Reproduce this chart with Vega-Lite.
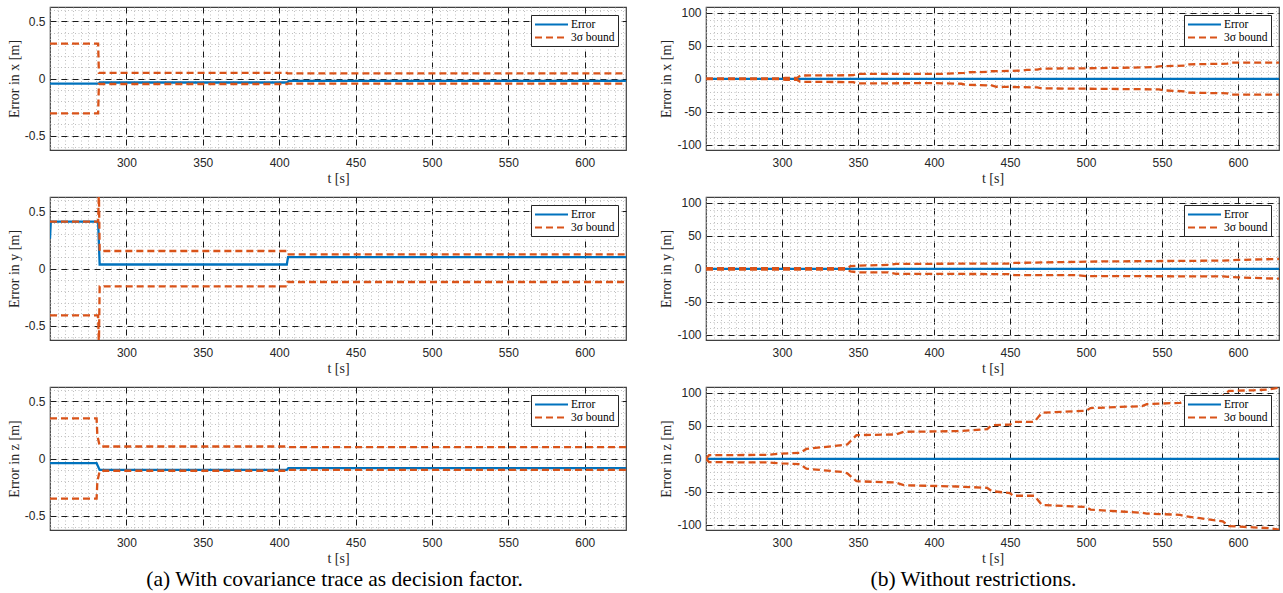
{
  "$schema": "https://vega.github.io/schema/vega-lite/v6.json",
  "background": "white",
  "padding": {"left": 6, "top": 6, "right": 4, "bottom": 2},
  "data": {"values": [
    {"p":"ax","s":"Error","g":"e","t":250,"v":-0.044},
    {"p":"ax","s":"Error","g":"e","t":282,"v":-0.044},
    {"p":"ax","s":"Error","g":"e","t":282.5,"v":-0.035},
    {"p":"ax","s":"Error","g":"e","t":405,"v":-0.035},
    {"p":"ax","s":"Error","g":"e","t":406.5,"v":-0.02},
    {"p":"ax","s":"Error","g":"e","t":627,"v":-0.02},
    {"p":"ax","s":"3σ bound","g":"u","t":250,"v":0.305},
    {"p":"ax","s":"3σ bound","g":"u","t":281.5,"v":0.305},
    {"p":"ax","s":"3σ bound","g":"u","t":282,"v":0.05},
    {"p":"ax","s":"3σ bound","g":"u","t":405,"v":0.05},
    {"p":"ax","s":"3σ bound","g":"u","t":405.5,"v":0.045},
    {"p":"ax","s":"3σ bound","g":"u","t":627,"v":0.045},
    {"p":"ax","s":"3σ bound","g":"l","t":250,"v":-0.305},
    {"p":"ax","s":"3σ bound","g":"l","t":281.5,"v":-0.305},
    {"p":"ax","s":"3σ bound","g":"l","t":282,"v":-0.048},
    {"p":"ax","s":"3σ bound","g":"l","t":405,"v":-0.048},
    {"p":"ax","s":"3σ bound","g":"l","t":405.5,"v":-0.045},
    {"p":"ax","s":"3σ bound","g":"l","t":627,"v":-0.045},

    {"p":"ay","s":"Error","g":"e","t":250,"v":0.26},
    {"p":"ay","s":"Error","g":"e","t":250.5,"v":0.41},
    {"p":"ay","s":"Error","g":"e","t":281.5,"v":0.41},
    {"p":"ay","s":"Error","g":"e","t":282.5,"v":0.035},
    {"p":"ay","s":"Error","g":"e","t":405,"v":0.035},
    {"p":"ay","s":"Error","g":"e","t":405.8,"v":0.1},
    {"p":"ay","s":"Error","g":"e","t":627,"v":0.1},
    {"p":"ay","s":"3σ bound","g":"u","t":250,"v":0.41},
    {"p":"ay","s":"3σ bound","g":"u","t":281.5,"v":0.41},
    {"p":"ay","s":"3σ bound","g":"u","t":282,"v":0.68},
    {"p":"ay","s":"3σ bound","g":"u","t":282.5,"v":0.153},
    {"p":"ay","s":"3σ bound","g":"u","t":405,"v":0.153},
    {"p":"ay","s":"3σ bound","g":"u","t":405.5,"v":0.124},
    {"p":"ay","s":"3σ bound","g":"u","t":627,"v":0.124},
    {"p":"ay","s":"3σ bound","g":"l","t":250,"v":-0.41},
    {"p":"ay","s":"3σ bound","g":"l","t":281.5,"v":-0.41},
    {"p":"ay","s":"3σ bound","g":"l","t":282,"v":-0.68},
    {"p":"ay","s":"3σ bound","g":"l","t":282.5,"v":-0.156},
    {"p":"ay","s":"3σ bound","g":"l","t":405,"v":-0.156},
    {"p":"ay","s":"3σ bound","g":"l","t":405.5,"v":-0.118},
    {"p":"ay","s":"3σ bound","g":"l","t":627,"v":-0.118},

    {"p":"az","s":"Error","g":"e","t":250,"v":-0.041},
    {"p":"az","s":"Error","g":"e","t":280.5,"v":-0.041},
    {"p":"az","s":"Error","g":"e","t":282.5,"v":-0.1},
    {"p":"az","s":"Error","g":"e","t":405,"v":-0.1},
    {"p":"az","s":"Error","g":"e","t":406,"v":-0.085},
    {"p":"az","s":"Error","g":"e","t":627,"v":-0.085},
    {"p":"az","s":"3σ bound","g":"u","t":250,"v":0.35},
    {"p":"az","s":"3σ bound","g":"u","t":280.5,"v":0.35},
    {"p":"az","s":"3σ bound","g":"u","t":281,"v":0.2},
    {"p":"az","s":"3σ bound","g":"u","t":282.5,"v":0.11},
    {"p":"az","s":"3σ bound","g":"u","t":284,"v":0.105},
    {"p":"az","s":"3σ bound","g":"u","t":405,"v":0.105},
    {"p":"az","s":"3σ bound","g":"u","t":405.5,"v":0.1},
    {"p":"az","s":"3σ bound","g":"u","t":627,"v":0.1},
    {"p":"az","s":"3σ bound","g":"l","t":250,"v":-0.35},
    {"p":"az","s":"3σ bound","g":"l","t":280.5,"v":-0.35},
    {"p":"az","s":"3σ bound","g":"l","t":281,"v":-0.2},
    {"p":"az","s":"3σ bound","g":"l","t":282.5,"v":-0.11},
    {"p":"az","s":"3σ bound","g":"l","t":284,"v":-0.107},
    {"p":"az","s":"3σ bound","g":"l","t":405,"v":-0.107},
    {"p":"az","s":"3σ bound","g":"l","t":405.5,"v":-0.1},
    {"p":"az","s":"3σ bound","g":"l","t":627,"v":-0.1},

    {"p":"bx","s":"Error","g":"e","t":250,"v":0},
    {"p":"bx","s":"Error","g":"e","t":627,"v":0},
    {"p":"bx","s":"3σ bound","g":"u","t":250,"v":0.5},
    {"p":"bx","s":"3σ bound","g":"u","t":300,"v":0.5},
    {"p":"bx","s":"3σ bound","g":"u","t":302,"v":1.5},
    {"p":"bx","s":"3σ bound","g":"u","t":310,"v":1.5},
    {"p":"bx","s":"3σ bound","g":"u","t":312,"v":5},
    {"p":"bx","s":"3σ bound","g":"u","t":347,"v":5.5},
    {"p":"bx","s":"3σ bound","g":"u","t":349,"v":7.5},
    {"p":"bx","s":"3σ bound","g":"u","t":405,"v":7.5},
    {"p":"bx","s":"3σ bound","g":"u","t":420,"v":9},
    {"p":"bx","s":"3σ bound","g":"u","t":423,"v":10},
    {"p":"bx","s":"3σ bound","g":"u","t":436,"v":10.5},
    {"p":"bx","s":"3σ bound","g":"u","t":438,"v":11.5},
    {"p":"bx","s":"3σ bound","g":"u","t":458,"v":12.5},
    {"p":"bx","s":"3σ bound","g":"u","t":461,"v":13.5},
    {"p":"bx","s":"3σ bound","g":"u","t":468,"v":14},
    {"p":"bx","s":"3σ bound","g":"u","t":471,"v":15.5},
    {"p":"bx","s":"3σ bound","g":"u","t":500,"v":16},
    {"p":"bx","s":"3σ bound","g":"u","t":530,"v":17},
    {"p":"bx","s":"3σ bound","g":"u","t":546,"v":18},
    {"p":"bx","s":"3σ bound","g":"u","t":548,"v":19},
    {"p":"bx","s":"3σ bound","g":"u","t":565,"v":20},
    {"p":"bx","s":"3σ bound","g":"u","t":568,"v":22},
    {"p":"bx","s":"3σ bound","g":"u","t":593,"v":23},
    {"p":"bx","s":"3σ bound","g":"u","t":596,"v":24.5},
    {"p":"bx","s":"3σ bound","g":"u","t":627,"v":24.5},
    {"p":"bx","s":"3σ bound","g":"l","t":250,"v":-0.5},
    {"p":"bx","s":"3σ bound","g":"l","t":300,"v":-0.5},
    {"p":"bx","s":"3σ bound","g":"l","t":302,"v":-1.5},
    {"p":"bx","s":"3σ bound","g":"l","t":310,"v":-1.5},
    {"p":"bx","s":"3σ bound","g":"l","t":312,"v":-4.5},
    {"p":"bx","s":"3σ bound","g":"l","t":347,"v":-5},
    {"p":"bx","s":"3σ bound","g":"l","t":349,"v":-7},
    {"p":"bx","s":"3σ bound","g":"l","t":400,"v":-6.5},
    {"p":"bx","s":"3σ bound","g":"l","t":418,"v":-7.5},
    {"p":"bx","s":"3σ bound","g":"l","t":421,"v":-9},
    {"p":"bx","s":"3σ bound","g":"l","t":438,"v":-10},
    {"p":"bx","s":"3σ bound","g":"l","t":441,"v":-12},
    {"p":"bx","s":"3σ bound","g":"l","t":468,"v":-13},
    {"p":"bx","s":"3σ bound","g":"l","t":471,"v":-14.5},
    {"p":"bx","s":"3σ bound","g":"l","t":500,"v":-15},
    {"p":"bx","s":"3σ bound","g":"l","t":548,"v":-16},
    {"p":"bx","s":"3σ bound","g":"l","t":551,"v":-17.5},
    {"p":"bx","s":"3σ bound","g":"l","t":565,"v":-19},
    {"p":"bx","s":"3σ bound","g":"l","t":568,"v":-21},
    {"p":"bx","s":"3σ bound","g":"l","t":593,"v":-22},
    {"p":"bx","s":"3σ bound","g":"l","t":596,"v":-24},
    {"p":"bx","s":"3σ bound","g":"l","t":627,"v":-24},

    {"p":"by","s":"Error","g":"e","t":250,"v":0},
    {"p":"by","s":"Error","g":"e","t":627,"v":0},
    {"p":"by","s":"3σ bound","g":"u","t":250,"v":1},
    {"p":"by","s":"3σ bound","g":"u","t":343,"v":1},
    {"p":"by","s":"3σ bound","g":"u","t":345,"v":4},
    {"p":"by","s":"3σ bound","g":"u","t":351,"v":5},
    {"p":"by","s":"3σ bound","g":"u","t":370,"v":6},
    {"p":"by","s":"3σ bound","g":"u","t":375,"v":7.5},
    {"p":"by","s":"3σ bound","g":"u","t":449,"v":8},
    {"p":"by","s":"3σ bound","g":"u","t":453,"v":9},
    {"p":"by","s":"3σ bound","g":"u","t":493,"v":10.5},
    {"p":"by","s":"3σ bound","g":"u","t":500,"v":11},
    {"p":"by","s":"3σ bound","g":"u","t":590,"v":12.5},
    {"p":"by","s":"3σ bound","g":"u","t":600,"v":13.5},
    {"p":"by","s":"3σ bound","g":"u","t":627,"v":15},
    {"p":"by","s":"3σ bound","g":"l","t":250,"v":-1},
    {"p":"by","s":"3σ bound","g":"l","t":343,"v":-1},
    {"p":"by","s":"3σ bound","g":"l","t":345,"v":-4},
    {"p":"by","s":"3σ bound","g":"l","t":351,"v":-5.5},
    {"p":"by","s":"3σ bound","g":"l","t":370,"v":-5.5},
    {"p":"by","s":"3σ bound","g":"l","t":375,"v":-7.5},
    {"p":"by","s":"3σ bound","g":"l","t":449,"v":-8},
    {"p":"by","s":"3σ bound","g":"l","t":453,"v":-9.5},
    {"p":"by","s":"3σ bound","g":"l","t":493,"v":-9.5},
    {"p":"by","s":"3σ bound","g":"l","t":500,"v":-11},
    {"p":"by","s":"3σ bound","g":"l","t":590,"v":-11.5},
    {"p":"by","s":"3σ bound","g":"l","t":600,"v":-13},
    {"p":"by","s":"3σ bound","g":"l","t":627,"v":-15},

    {"p":"bz","s":"Error","g":"e","t":250,"v":0},
    {"p":"bz","s":"Error","g":"e","t":627,"v":0},
    {"p":"bz","s":"3σ bound","g":"u","t":250,"v":0},
    {"p":"bz","s":"3σ bound","g":"u","t":252,"v":5.5},
    {"p":"bz","s":"3σ bound","g":"u","t":290,"v":6},
    {"p":"bz","s":"3σ bound","g":"u","t":300,"v":8},
    {"p":"bz","s":"3σ bound","g":"u","t":312,"v":9},
    {"p":"bz","s":"3σ bound","g":"u","t":316,"v":15},
    {"p":"bz","s":"3σ bound","g":"u","t":340,"v":21},
    {"p":"bz","s":"3σ bound","g":"u","t":343,"v":22},
    {"p":"bz","s":"3σ bound","g":"u","t":349,"v":36},
    {"p":"bz","s":"3σ bound","g":"u","t":375,"v":37},
    {"p":"bz","s":"3σ bound","g":"u","t":380,"v":41},
    {"p":"bz","s":"3σ bound","g":"u","t":415,"v":42},
    {"p":"bz","s":"3σ bound","g":"u","t":435,"v":45},
    {"p":"bz","s":"3σ bound","g":"u","t":438,"v":51},
    {"p":"bz","s":"3σ bound","g":"u","t":450,"v":52},
    {"p":"bz","s":"3σ bound","g":"u","t":452,"v":56},
    {"p":"bz","s":"3σ bound","g":"u","t":466,"v":56},
    {"p":"bz","s":"3σ bound","g":"u","t":471,"v":70},
    {"p":"bz","s":"3σ bound","g":"u","t":500,"v":73},
    {"p":"bz","s":"3σ bound","g":"u","t":503,"v":77},
    {"p":"bz","s":"3σ bound","g":"u","t":537,"v":80},
    {"p":"bz","s":"3σ bound","g":"u","t":540,"v":83},
    {"p":"bz","s":"3σ bound","g":"u","t":562,"v":85},
    {"p":"bz","s":"3σ bound","g":"u","t":565,"v":88},
    {"p":"bz","s":"3σ bound","g":"u","t":575,"v":91},
    {"p":"bz","s":"3σ bound","g":"u","t":590,"v":95},
    {"p":"bz","s":"3σ bound","g":"u","t":594,"v":103},
    {"p":"bz","s":"3σ bound","g":"u","t":610,"v":104},
    {"p":"bz","s":"3σ bound","g":"u","t":620,"v":105},
    {"p":"bz","s":"3σ bound","g":"u","t":627,"v":108},
    {"p":"bz","s":"3σ bound","g":"l","t":250,"v":0},
    {"p":"bz","s":"3σ bound","g":"l","t":252,"v":-5},
    {"p":"bz","s":"3σ bound","g":"l","t":290,"v":-5.5},
    {"p":"bz","s":"3σ bound","g":"l","t":300,"v":-7},
    {"p":"bz","s":"3σ bound","g":"l","t":312,"v":-8},
    {"p":"bz","s":"3σ bound","g":"l","t":316,"v":-15},
    {"p":"bz","s":"3σ bound","g":"l","t":340,"v":-20},
    {"p":"bz","s":"3σ bound","g":"l","t":343,"v":-22},
    {"p":"bz","s":"3σ bound","g":"l","t":349,"v":-34},
    {"p":"bz","s":"3σ bound","g":"l","t":375,"v":-36},
    {"p":"bz","s":"3σ bound","g":"l","t":380,"v":-40},
    {"p":"bz","s":"3σ bound","g":"l","t":415,"v":-42},
    {"p":"bz","s":"3σ bound","g":"l","t":435,"v":-44},
    {"p":"bz","s":"3σ bound","g":"l","t":438,"v":-49},
    {"p":"bz","s":"3σ bound","g":"l","t":450,"v":-52},
    {"p":"bz","s":"3σ bound","g":"l","t":452,"v":-56},
    {"p":"bz","s":"3σ bound","g":"l","t":466,"v":-56},
    {"p":"bz","s":"3σ bound","g":"l","t":471,"v":-70},
    {"p":"bz","s":"3σ bound","g":"l","t":500,"v":-73},
    {"p":"bz","s":"3σ bound","g":"l","t":503,"v":-77},
    {"p":"bz","s":"3σ bound","g":"l","t":537,"v":-82},
    {"p":"bz","s":"3σ bound","g":"l","t":540,"v":-83},
    {"p":"bz","s":"3σ bound","g":"l","t":562,"v":-85},
    {"p":"bz","s":"3σ bound","g":"l","t":565,"v":-87},
    {"p":"bz","s":"3σ bound","g":"l","t":575,"v":-90},
    {"p":"bz","s":"3σ bound","g":"l","t":590,"v":-95},
    {"p":"bz","s":"3σ bound","g":"l","t":594,"v":-102},
    {"p":"bz","s":"3σ bound","g":"l","t":610,"v":-104},
    {"p":"bz","s":"3σ bound","g":"l","t":620,"v":-105},
    {"p":"bz","s":"3σ bound","g":"l","t":627,"v":-107.5}
  ]},
  "hconcat": [
    {
      "title": {"text": "(a)  With covariance trace as decision factor.", "orient": "bottom", "anchor": "middle", "font": "Liberation Serif", "fontSize": 21.5, "fontWeight": "normal", "color": "#000000", "offset": 3, "dx": 18},
      "spacing": 47,
      "bounds": "flush",
      "resolve": {"scale": {"color": "independent", "strokeDash": "independent"}},
      "vconcat": [
        {
          "width": 576, "height": 143,
          "transform": [{"filter": "datum.p == 'ax'"}],
          "layer": [
            {"mark": {"type": "line", "opacity": 0},
             "encoding": {
               "x": {"field": "t", "type": "quantitative", "scale": {"domain": [250, 627], "nice": false, "zero": false}, "axis": {"orient": "bottom", "values": [250,255,260,265,270,275,280,285,290,295,300,305,310,315,320,325,330,335,340,345,350,355,360,365,370,375,380,385,390,395,400,405,410,415,420,425,430,435,440,445,450,455,460,465,470,475,480,485,490,495,500,505,510,515,520,525,530,535,540,545,550,555,560,565,570,575,580,585,590,595,600,605,610,615,620,625], "grid": true, "gridDash": [1, 2.5], "gridColor": "#b0b0b0", "gridWidth": 0.8, "labels": false, "ticks": false, "domain": false, "title": null}},
               "y": {"field": "v", "type": "quantitative", "scale": {"domain": [-0.625, 0.625], "nice": false, "zero": false}, "axis": {"orient": "left", "values": [-0.6,-0.5,-0.4,-0.3,-0.2,-0.1,0,0.1,0.2,0.3,0.4,0.5,0.6], "grid": true, "gridDash": [1, 2.5], "gridColor": "#b0b0b0", "gridWidth": 0.8, "labels": false, "ticks": false, "domain": false, "title": null}},
               "detail": {"field": "g"}
             }},
            {"mark": {"type": "line", "strokeWidth": 2.3, "clip": true},
             "encoding": {
               "x": {"field": "t", "type": "quantitative", "scale": {"domain": [250, 627], "nice": false, "zero": false}, "axis": {"orient": "bottom", "values": [300,350,400,450,500,550,600], "grid": true, "gridDash": [6, 5], "gridColor": "#1a1a1a", "gridWidth": 1, "title": "t [s]"}},
               "y": {"field": "v", "type": "quantitative", "scale": {"domain": [-0.625, 0.625], "nice": false, "zero": false}, "axis": {"orient": "left", "values": [-0.5, 0, 0.5], "grid": true, "gridDash": [6, 5], "gridColor": "#1a1a1a", "gridWidth": 1, "title": "Error in x [m]", "labelExpr": "datum.value < 0 ? '-' + format(-datum.value, '~g') : format(datum.value, '~g')"}},
               "color": {"field": "s", "type": "nominal", "scale": {"domain": ["Error", "3σ bound"], "range": ["#0072BD", "#D95319"]}, "legend": {"title": null}},
               "strokeDash": {"field": "s", "type": "nominal", "scale": {"domain": ["Error", "3σ bound"], "range": [[1, 0], [7, 4]]}, "legend": {"title": null}},
               "detail": {"field": "g"}
             }}
          ],
          "resolve": {"axis": {"x": "independent", "y": "independent"}}
        },
        {
          "width": 576, "height": 143,
          "transform": [{"filter": "datum.p == 'ay'"}],
          "layer": [
            {"mark": {"type": "line", "opacity": 0},
             "encoding": {
               "x": {"field": "t", "type": "quantitative", "scale": {"domain": [250, 627], "nice": false, "zero": false}, "axis": {"orient": "bottom", "values": [250,255,260,265,270,275,280,285,290,295,300,305,310,315,320,325,330,335,340,345,350,355,360,365,370,375,380,385,390,395,400,405,410,415,420,425,430,435,440,445,450,455,460,465,470,475,480,485,490,495,500,505,510,515,520,525,530,535,540,545,550,555,560,565,570,575,580,585,590,595,600,605,610,615,620,625], "grid": true, "gridDash": [1, 2.5], "gridColor": "#b0b0b0", "gridWidth": 0.8, "labels": false, "ticks": false, "domain": false, "title": null}},
               "y": {"field": "v", "type": "quantitative", "scale": {"domain": [-0.625, 0.625], "nice": false, "zero": false}, "axis": {"orient": "left", "values": [-0.6,-0.5,-0.4,-0.3,-0.2,-0.1,0,0.1,0.2,0.3,0.4,0.5,0.6], "grid": true, "gridDash": [1, 2.5], "gridColor": "#b0b0b0", "gridWidth": 0.8, "labels": false, "ticks": false, "domain": false, "title": null}},
               "detail": {"field": "g"}
             }},
            {"mark": {"type": "line", "strokeWidth": 2.3, "clip": true},
             "encoding": {
               "x": {"field": "t", "type": "quantitative", "scale": {"domain": [250, 627], "nice": false, "zero": false}, "axis": {"orient": "bottom", "values": [300,350,400,450,500,550,600], "grid": true, "gridDash": [6, 5], "gridColor": "#1a1a1a", "gridWidth": 1, "title": "t [s]"}},
               "y": {"field": "v", "type": "quantitative", "scale": {"domain": [-0.625, 0.625], "nice": false, "zero": false}, "axis": {"orient": "left", "values": [-0.5, 0, 0.5], "grid": true, "gridDash": [6, 5], "gridColor": "#1a1a1a", "gridWidth": 1, "title": "Error in y [m]", "labelExpr": "datum.value < 0 ? '-' + format(-datum.value, '~g') : format(datum.value, '~g')"}},
               "color": {"field": "s", "type": "nominal", "scale": {"domain": ["Error", "3σ bound"], "range": ["#0072BD", "#D95319"]}, "legend": {"title": null}},
               "strokeDash": {"field": "s", "type": "nominal", "scale": {"domain": ["Error", "3σ bound"], "range": [[1, 0], [7, 4]]}, "legend": {"title": null}},
               "detail": {"field": "g"}
             }}
          ],
          "resolve": {"axis": {"x": "independent", "y": "independent"}}
        },
        {
          "width": 576, "height": 143,
          "transform": [{"filter": "datum.p == 'az'"}],
          "layer": [
            {"mark": {"type": "line", "opacity": 0},
             "encoding": {
               "x": {"field": "t", "type": "quantitative", "scale": {"domain": [250, 627], "nice": false, "zero": false}, "axis": {"orient": "bottom", "values": [250,255,260,265,270,275,280,285,290,295,300,305,310,315,320,325,330,335,340,345,350,355,360,365,370,375,380,385,390,395,400,405,410,415,420,425,430,435,440,445,450,455,460,465,470,475,480,485,490,495,500,505,510,515,520,525,530,535,540,545,550,555,560,565,570,575,580,585,590,595,600,605,610,615,620,625], "grid": true, "gridDash": [1, 2.5], "gridColor": "#b0b0b0", "gridWidth": 0.8, "labels": false, "ticks": false, "domain": false, "title": null}},
               "y": {"field": "v", "type": "quantitative", "scale": {"domain": [-0.625, 0.625], "nice": false, "zero": false}, "axis": {"orient": "left", "values": [-0.6,-0.5,-0.4,-0.3,-0.2,-0.1,0,0.1,0.2,0.3,0.4,0.5,0.6], "grid": true, "gridDash": [1, 2.5], "gridColor": "#b0b0b0", "gridWidth": 0.8, "labels": false, "ticks": false, "domain": false, "title": null}},
               "detail": {"field": "g"}
             }},
            {"mark": {"type": "line", "strokeWidth": 2.3, "clip": true},
             "encoding": {
               "x": {"field": "t", "type": "quantitative", "scale": {"domain": [250, 627], "nice": false, "zero": false}, "axis": {"orient": "bottom", "values": [300,350,400,450,500,550,600], "grid": true, "gridDash": [6, 5], "gridColor": "#1a1a1a", "gridWidth": 1, "title": "t [s]"}},
               "y": {"field": "v", "type": "quantitative", "scale": {"domain": [-0.625, 0.625], "nice": false, "zero": false}, "axis": {"orient": "left", "values": [-0.5, 0, 0.5], "grid": true, "gridDash": [6, 5], "gridColor": "#1a1a1a", "gridWidth": 1, "title": "Error in z [m]", "labelExpr": "datum.value < 0 ? '-' + format(-datum.value, '~g') : format(datum.value, '~g')"}},
               "color": {"field": "s", "type": "nominal", "scale": {"domain": ["Error", "3σ bound"], "range": ["#0072BD", "#D95319"]}, "legend": {"title": null}},
               "strokeDash": {"field": "s", "type": "nominal", "scale": {"domain": ["Error", "3σ bound"], "range": [[1, 0], [7, 4]]}, "legend": {"title": null}},
               "detail": {"field": "g"}
             }}
          ],
          "resolve": {"axis": {"x": "independent", "y": "independent"}}
        }
      ]
    },
    {
      "title": {"text": "(b)  Without restrictions.", "orient": "bottom", "anchor": "middle", "font": "Liberation Serif", "fontSize": 21.5, "fontWeight": "normal", "color": "#000000", "offset": 3, "dx": 4},
      "spacing": 47,
      "bounds": "flush",
      "resolve": {"scale": {"color": "independent", "strokeDash": "independent"}},
      "vconcat": [
        {
          "width": 573, "height": 143,
          "transform": [{"filter": "datum.p == 'bx'"}],
          "layer": [
            {"mark": {"type": "line", "opacity": 0},
             "encoding": {
               "x": {"field": "t", "type": "quantitative", "scale": {"domain": [250, 627], "nice": false, "zero": false}, "axis": {"orient": "bottom", "values": [250,255,260,265,270,275,280,285,290,295,300,305,310,315,320,325,330,335,340,345,350,355,360,365,370,375,380,385,390,395,400,405,410,415,420,425,430,435,440,445,450,455,460,465,470,475,480,485,490,495,500,505,510,515,520,525,530,535,540,545,550,555,560,565,570,575,580,585,590,595,600,605,610,615,620,625], "grid": true, "gridDash": [1, 2.5], "gridColor": "#b0b0b0", "gridWidth": 0.8, "labels": false, "ticks": false, "domain": false, "title": null}},
               "y": {"field": "v", "type": "quantitative", "scale": {"domain": [-108, 109], "nice": false, "zero": false}, "axis": {"orient": "left", "values": [-100,-90,-80,-70,-60,-50,-40,-30,-20,-10,0,10,20,30,40,50,60,70,80,90,100], "grid": true, "gridDash": [1, 2.5], "gridColor": "#b0b0b0", "gridWidth": 0.8, "labels": false, "ticks": false, "domain": false, "title": null}},
               "detail": {"field": "g"}
             }},
            {"mark": {"type": "line", "strokeWidth": 2.3, "clip": true},
             "encoding": {
               "x": {"field": "t", "type": "quantitative", "scale": {"domain": [250, 627], "nice": false, "zero": false}, "axis": {"orient": "bottom", "values": [300,350,400,450,500,550,600], "grid": true, "gridDash": [6, 5], "gridColor": "#1a1a1a", "gridWidth": 1, "title": "t [s]"}},
               "y": {"field": "v", "type": "quantitative", "scale": {"domain": [-108, 109], "nice": false, "zero": false}, "axis": {"orient": "left", "values": [-100, -50, 0, 50, 100], "grid": true, "gridDash": [6, 5], "gridColor": "#1a1a1a", "gridWidth": 1, "title": "Error in x [m]", "labelExpr": "datum.value < 0 ? '-' + format(-datum.value, '~g') : format(datum.value, '~g')"}},
               "color": {"field": "s", "type": "nominal", "scale": {"domain": ["Error", "3σ bound"], "range": ["#0072BD", "#D95319"]}, "legend": {"title": null}},
               "strokeDash": {"field": "s", "type": "nominal", "scale": {"domain": ["Error", "3σ bound"], "range": [[1, 0], [7, 4]]}, "legend": {"title": null}},
               "detail": {"field": "g"}
             }}
          ],
          "resolve": {"axis": {"x": "independent", "y": "independent"}}
        },
        {
          "width": 573, "height": 143,
          "transform": [{"filter": "datum.p == 'by'"}],
          "layer": [
            {"mark": {"type": "line", "opacity": 0},
             "encoding": {
               "x": {"field": "t", "type": "quantitative", "scale": {"domain": [250, 627], "nice": false, "zero": false}, "axis": {"orient": "bottom", "values": [250,255,260,265,270,275,280,285,290,295,300,305,310,315,320,325,330,335,340,345,350,355,360,365,370,375,380,385,390,395,400,405,410,415,420,425,430,435,440,445,450,455,460,465,470,475,480,485,490,495,500,505,510,515,520,525,530,535,540,545,550,555,560,565,570,575,580,585,590,595,600,605,610,615,620,625], "grid": true, "gridDash": [1, 2.5], "gridColor": "#b0b0b0", "gridWidth": 0.8, "labels": false, "ticks": false, "domain": false, "title": null}},
               "y": {"field": "v", "type": "quantitative", "scale": {"domain": [-108, 109], "nice": false, "zero": false}, "axis": {"orient": "left", "values": [-100,-90,-80,-70,-60,-50,-40,-30,-20,-10,0,10,20,30,40,50,60,70,80,90,100], "grid": true, "gridDash": [1, 2.5], "gridColor": "#b0b0b0", "gridWidth": 0.8, "labels": false, "ticks": false, "domain": false, "title": null}},
               "detail": {"field": "g"}
             }},
            {"mark": {"type": "line", "strokeWidth": 2.3, "clip": true},
             "encoding": {
               "x": {"field": "t", "type": "quantitative", "scale": {"domain": [250, 627], "nice": false, "zero": false}, "axis": {"orient": "bottom", "values": [300,350,400,450,500,550,600], "grid": true, "gridDash": [6, 5], "gridColor": "#1a1a1a", "gridWidth": 1, "title": "t [s]"}},
               "y": {"field": "v", "type": "quantitative", "scale": {"domain": [-108, 109], "nice": false, "zero": false}, "axis": {"orient": "left", "values": [-100, -50, 0, 50, 100], "grid": true, "gridDash": [6, 5], "gridColor": "#1a1a1a", "gridWidth": 1, "title": "Error in y [m]", "labelExpr": "datum.value < 0 ? '-' + format(-datum.value, '~g') : format(datum.value, '~g')"}},
               "color": {"field": "s", "type": "nominal", "scale": {"domain": ["Error", "3σ bound"], "range": ["#0072BD", "#D95319"]}, "legend": {"title": null}},
               "strokeDash": {"field": "s", "type": "nominal", "scale": {"domain": ["Error", "3σ bound"], "range": [[1, 0], [7, 4]]}, "legend": {"title": null}},
               "detail": {"field": "g"}
             }}
          ],
          "resolve": {"axis": {"x": "independent", "y": "independent"}}
        },
        {
          "width": 573, "height": 143,
          "transform": [{"filter": "datum.p == 'bz'"}],
          "layer": [
            {"mark": {"type": "line", "opacity": 0},
             "encoding": {
               "x": {"field": "t", "type": "quantitative", "scale": {"domain": [250, 627], "nice": false, "zero": false}, "axis": {"orient": "bottom", "values": [250,255,260,265,270,275,280,285,290,295,300,305,310,315,320,325,330,335,340,345,350,355,360,365,370,375,380,385,390,395,400,405,410,415,420,425,430,435,440,445,450,455,460,465,470,475,480,485,490,495,500,505,510,515,520,525,530,535,540,545,550,555,560,565,570,575,580,585,590,595,600,605,610,615,620,625], "grid": true, "gridDash": [1, 2.5], "gridColor": "#b0b0b0", "gridWidth": 0.8, "labels": false, "ticks": false, "domain": false, "title": null}},
               "y": {"field": "v", "type": "quantitative", "scale": {"domain": [-108, 109], "nice": false, "zero": false}, "axis": {"orient": "left", "values": [-100,-90,-80,-70,-60,-50,-40,-30,-20,-10,0,10,20,30,40,50,60,70,80,90,100], "grid": true, "gridDash": [1, 2.5], "gridColor": "#b0b0b0", "gridWidth": 0.8, "labels": false, "ticks": false, "domain": false, "title": null}},
               "detail": {"field": "g"}
             }},
            {"mark": {"type": "line", "strokeWidth": 2.3, "clip": true},
             "encoding": {
               "x": {"field": "t", "type": "quantitative", "scale": {"domain": [250, 627], "nice": false, "zero": false}, "axis": {"orient": "bottom", "values": [300,350,400,450,500,550,600], "grid": true, "gridDash": [6, 5], "gridColor": "#1a1a1a", "gridWidth": 1, "title": "t [s]"}},
               "y": {"field": "v", "type": "quantitative", "scale": {"domain": [-108, 109], "nice": false, "zero": false}, "axis": {"orient": "left", "values": [-100, -50, 0, 50, 100], "grid": true, "gridDash": [6, 5], "gridColor": "#1a1a1a", "gridWidth": 1, "title": "Error in z [m]", "labelExpr": "datum.value < 0 ? '-' + format(-datum.value, '~g') : format(datum.value, '~g')"}},
               "color": {"field": "s", "type": "nominal", "scale": {"domain": ["Error", "3σ bound"], "range": ["#0072BD", "#D95319"]}, "legend": {"title": null}},
               "strokeDash": {"field": "s", "type": "nominal", "scale": {"domain": ["Error", "3σ bound"], "range": [[1, 0], [7, 4]]}, "legend": {"title": null}},
               "detail": {"field": "g"}
             }}
          ],
          "resolve": {"axis": {"x": "independent", "y": "independent"}}
        }
      ]
    }
  ],
  "spacing": 32,
  "resolve": {"scale": {"color": "independent", "strokeDash": "independent"}},
  "config": {
    "font": "Liberation Sans",
    "view": {"stroke": "#404040", "strokeWidth": 1.2},
    "axis": {"labelFont": "Liberation Sans", "labelFontSize": 12, "labelColor": "#262626", "titleFont": "Liberation Serif", "titleFontSize": 14, "titleFontWeight": "normal", "titleColor": "#262626", "domain": false, "ticks": false, "tickSize": 0, "gridOpacity": 1},
    "axisX": {"labelPadding": 7, "titlePadding": 3},
    "axisY": {"labelPadding": 5, "titlePadding": 3},
    "legend": {"orient": "top-right", "offset": 8, "fillColor": "white", "strokeColor": "#262626", "padding": 3, "labelFont": "Liberation Serif", "labelFontSize": 11.5, "labelColor": "#000000", "symbolType": "M-1,0H5", "symbolSize": 121, "symbolStrokeWidth": 2, "labelOffset": 24, "rowPadding": 1, "cornerRadius": 0}
  }
}
